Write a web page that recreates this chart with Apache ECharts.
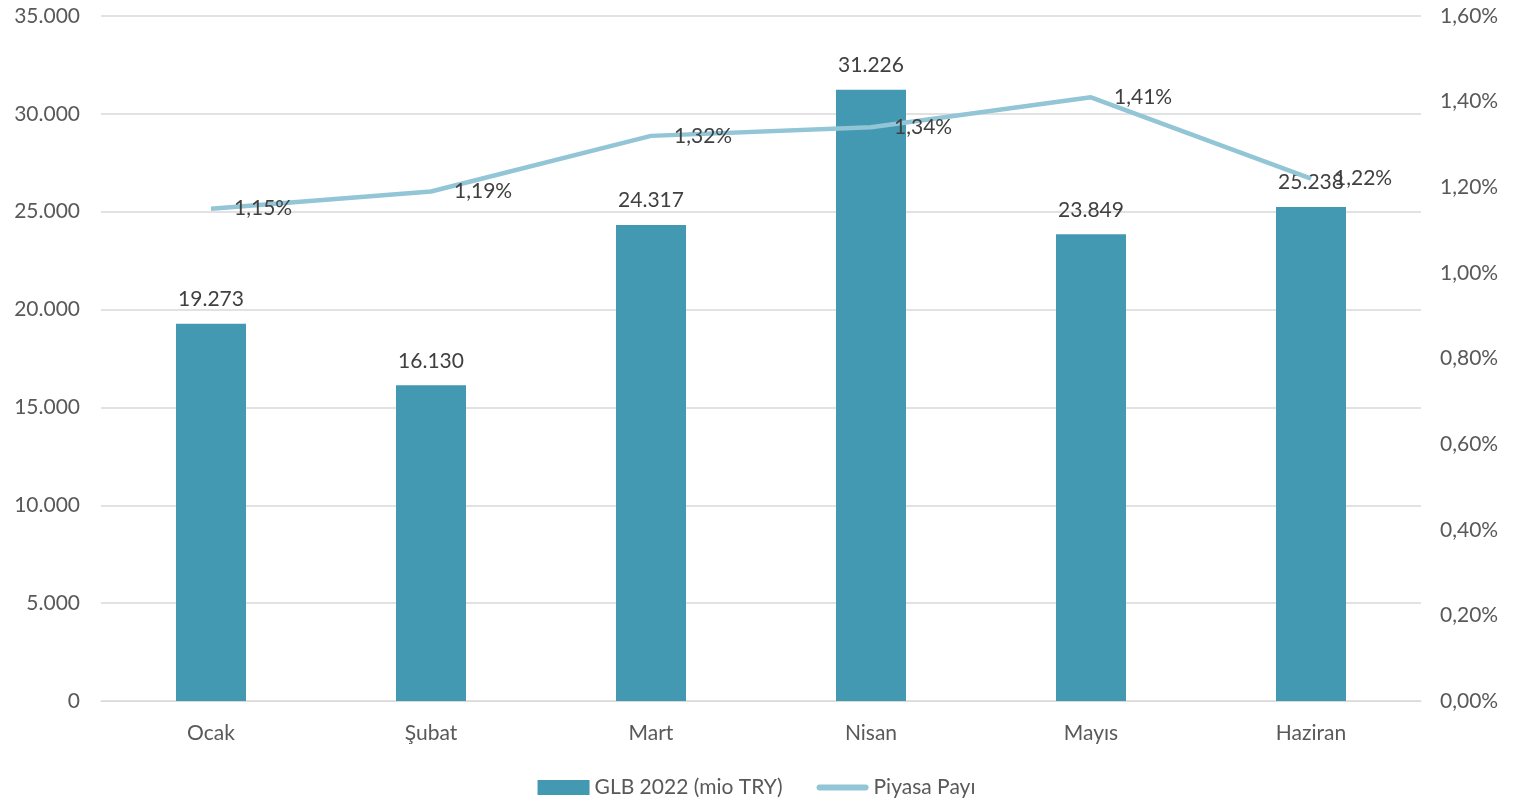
<!DOCTYPE html>
<html>
<head>
<meta charset="utf-8">
<script src="https://cdn.jsdelivr.net/npm/echarts@6/dist/echarts.min.js"></script>
<style>
  html, body { margin: 0; padding: 0; background: #fff; }
  #chart { width: 1513px; height: 801px; }
</style>
</head>
<body>
<div id="chart"></div>
<script>
// months
var months = ['Ocak', 'Şubat', 'Mart', 'Nisan', 'Mayıs', 'Haziran'];
// GLB 2022 (mio TRY)
var glbValues = [19273, 16130, 24317, 31226, 23849, 25238];
// market share, percent
var shareValues = [1.15, 1.19, 1.32, 1.34, 1.41, 1.22];

var FONT = 'Lato, "Open Sans", sans-serif';
var FS = 21;

function thousands(v) {
  return String(Math.round(v)).replace(/\B(?=(\d{3})+(?!\d))/g, '.');
}
function pct(v) {
  return v.toFixed(2).replace('.', ',') + '%';
}

var chart = echarts.init(document.getElementById('chart'));

var options = {
  animation: false,
  textStyle: { fontFamily: FONT },
  grid: { left: 101, right: 92, top: 16, bottom: 100 },
  legend: {
    bottom: -2,
    left: 'center',
    itemGap: 34,
    itemWidth: 52,
    itemHeight: 15,
    textStyle: { fontFamily: FONT, fontSize: FS, color: '#595959' },
    data: [
      { name: 'GLB 2022 (mio TRY)', icon: 'rect' },
      { name: 'Piyasa Payı', icon: 'path://M3,0h46a3,3 0 0 1 0,6h-46a3,3 0 0 1 0,-6z' }
    ]
  },
  xAxis: {
    type: 'category',
    data: months,
    axisTick: { show: false },
    axisLine: { lineStyle: { color: '#d9d9d9', width: 1 } },
    axisLabel: { fontFamily: FONT, fontSize: FS, color: '#595959', margin: 22 }
  },
  yAxis: [
    {
      type: 'value',
      min: 0,
      max: 35000,
      interval: 5000,
      axisLine: { show: false },
      axisTick: { show: false },
      splitLine: { lineStyle: { color: '#d9d9d9', width: 1.5 } },
      axisLabel: {
        fontFamily: FONT, fontSize: FS, color: '#595959', margin: 21,
        formatter: thousands
      }
    },
    {
      type: 'value',
      min: 0,
      max: 1.6,
      interval: 0.2,
      position: 'right',
      axisLine: { show: false },
      axisTick: { show: false },
      splitLine: { show: false },
      axisLabel: {
        fontFamily: FONT, fontSize: FS, color: '#595959', margin: 19,
        formatter: pct
      }
    }
  ],
  series: [
    {
      name: 'GLB 2022 (mio TRY)',
      type: 'bar',
      data: glbValues,
      barWidth: 70,
      itemStyle: { color: '#4399B1' },
      label: {
        show: true,
        position: 'top',
        distance: 14,
        fontFamily: FONT,
        fontSize: FS,
        color: '#404040',
        formatter: function(p) { return thousands(p.value); }
      }
    },
    {
      name: 'Piyasa Payı',
      type: 'line',
      yAxisIndex: 1,
      data: shareValues,
      symbol: 'circle',
      symbolSize: 0.1,
      lineStyle: { color: '#92C5D6', width: 4.5 },
      itemStyle: { color: '#92C5D6' },
      label: {
        show: true,
        position: 'right',
        distance: 23,
        padding: [8, 0, 0, 0],
        fontFamily: FONT,
        fontSize: FS,
        color: '#404040',
        formatter: function(p) { return pct(p.value); }
      },
      labelLayout: { hideOverlap: false }
    }
  ]
};

chart.setOption(options);
</script>
</body>
</html>
